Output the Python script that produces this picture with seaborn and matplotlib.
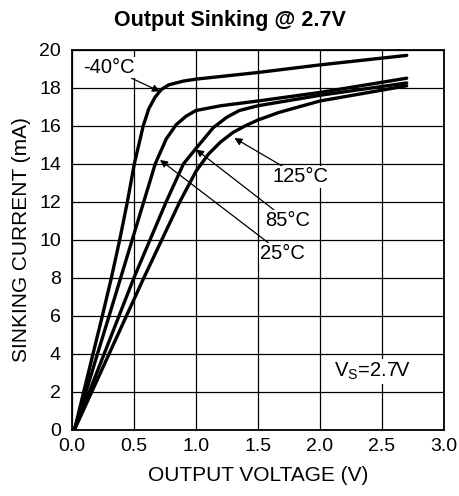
import matplotlib
matplotlib.use("Agg")
import matplotlib.pyplot as plt
import seaborn as sns
import pandas as pd

# Kurwy (napięcie wyjściowe [V], prąd [mA])
v_m40 = [0.02, 0.095, 0.17, 0.245, 0.318, 0.385, 0.447, 0.503, 0.575, 0.62, 0.67, 0.72, 0.78, 0.9, 1.0, 1.5, 2.0, 2.7]
i_m40 = [0, 2, 4, 6, 8, 10, 12, 14, 16, 16.9, 17.5, 17.9, 18.15, 18.35, 18.45, 18.8, 19.2, 19.7]

v_25 = [0.02, 0.113, 0.206, 0.30, 0.393, 0.486, 0.579, 0.672, 0.76, 0.84, 0.92, 1.0, 1.2, 1.5, 2.0, 2.7]
i_25 = [0, 2, 4, 6, 8, 10, 12, 14, 15.3, 16.05, 16.5, 16.8, 17.05, 17.3, 17.75, 18.5]

v_85 = [0.02, 0.14, 0.26, 0.38, 0.50, 0.63, 0.76, 0.90, 1.0, 1.14, 1.25, 1.35, 1.5, 2.0, 2.7]
i_85 = [0, 2, 4, 6, 8, 10, 12, 14, 14.8, 15.9, 16.45, 16.8, 17.05, 17.6, 18.25]

v_125 = [0.02, 0.16, 0.30, 0.44, 0.58, 0.725, 0.87, 1.0, 1.1, 1.2, 1.3, 1.4, 1.5, 1.67, 2.0, 2.7]
i_125 = [0, 2, 4, 6, 8, 10, 12, 13.6, 14.5, 15.15, 15.65, 16.0, 16.3, 16.7, 17.3, 18.1]

SERIES = {
    '-40°C': (v_m40, i_m40),
    '25°C': (v_25, i_25),
    '85°C': (v_85, i_85),
    '125°C': (v_125, i_125),
}

# Etykiety: tekst, położenie tekstu, grot strzałki
LABELS = ['-40°C', '125°C', '85°C', '25°C']
LABEL_XY = [(0.09, 19.05), (1.62, 13.3), (1.56, 11.0), (1.52, 9.25)]
ARROW_XY = [(0.71, 17.8), (1.31, 15.35), (1.0, 14.75), (0.71, 14.2)]

X_TICKS = [0.0, 0.5, 1.0, 1.5, 2.0, 2.5, 3.0]
Y_TICKS = list(range(0, 21, 2))

records = []
for name, (vs, cur) in SERIES.items():
    for v, c in zip(vs, cur):
        records.append({'Temp': name, 'V': v, 'I': c})
df = pd.DataFrame(records)

sns.set_style('white')
plt.rcParams['font.family'] = ['Liberation Sans', 'DejaVu Sans']
plt.rcParams['mathtext.fontset'] = 'custom'
plt.rcParams['mathtext.rm'] = 'Liberation Sans'
plt.rcParams['text.color'] = 'black'
plt.rcParams['axes.labelcolor'] = 'black'

fig = plt.figure(figsize=(4.6, 4.96), dpi=100)
ax = fig.add_axes([0.1565, 0.1337, 0.8085, 0.7661])

sns.lineplot(data=df, x='V', y='I', hue='Temp', units='Temp', estimator=None,
             sort=False, palette=['black'] * 4, linewidth=2.4, legend=False, ax=ax)

ax.set_xlim(0, 3.0)
ax.set_ylim(0, 20)
ax.set_xticks(X_TICKS)
ax.set_yticks(Y_TICKS)
ax.set_xticklabels([f'{t:.1f}' for t in X_TICKS])
ax.grid(True, color='black', linewidth=0.9)
ax.set_axisbelow(True)
for s in ax.spines.values():
    s.set_color('black')
    s.set_linewidth(1.3)
ax.tick_params(axis='both', length=0, labelsize=14, colors='black')
ax.tick_params(axis='y', pad=8)
ax.tick_params(axis='x', pad=6)

ax.set_xlabel('OUTPUT VOLTAGE (V)', fontsize=15, labelpad=8)
ax.set_ylabel('SINKING CURRENT (mA)', fontsize=15, labelpad=6)

for lab, txy, axy in zip(LABELS, LABEL_XY, ARROW_XY):
    ax.annotate(lab, xy=axy, xytext=txy, ha='left', va='center', fontsize=14.5,
                bbox=dict(boxstyle='square,pad=0.05', fc='white', ec='none'),
                arrowprops=dict(arrowstyle='-|>', color='black', lw=0.9,
                                mutation_scale=11, shrinkA=0, shrinkB=0))

ax.text(2.11, 3.05, r'V$_\mathregular{S}$=2.7V', ha='left', va='center', fontsize=14.5,
        bbox=dict(boxstyle='square,pad=0.1', fc='white', ec='none'))

fig.suptitle('Output Sinking @ 2.7V', fontsize=15.5, fontweight='bold', x=0.5, y=0.98)

plt.savefig('out.png', dpi=100)
plt.close()
